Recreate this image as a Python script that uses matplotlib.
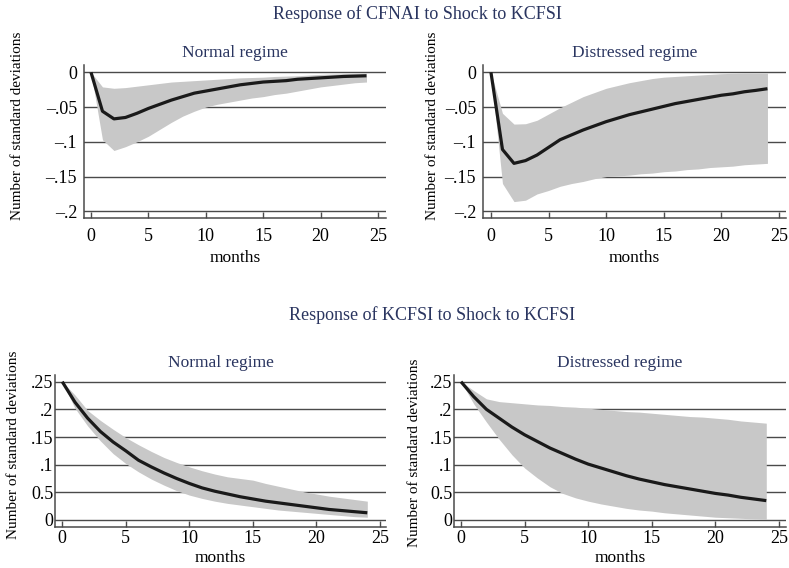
import numpy as np
import matplotlib
matplotlib.use("Agg")
import matplotlib.pyplot as plt

plt.rcParams['font.family'] = ['Liberation Serif', 'DejaVu Serif']

# impulse responses over the 24-month horizon
months = np.arange(25)

# response of CFNAI to a KCFSI shock
cfnai_normal = [0, -0.056, -0.067, -0.065, -0.059, -0.052, -0.046, -0.040, -0.035,
                -0.030, -0.027, -0.024, -0.021, -0.018, -0.016, -0.014, -0.013,
                -0.012, -0.010, -0.009, -0.008, -0.007, -0.006, -0.0055, -0.005]
cfnai_normal_hi = [0, -0.021, -0.023, -0.022, -0.020, -0.018, -0.016, -0.014, -0.013,
                   -0.012, -0.011, -0.010, -0.009, -0.008, -0.0075, -0.007, -0.006,
                   -0.0055, -0.005, -0.004, -0.003, -0.0025, -0.002, -0.0015, -0.001]
cfnai_normal_lo = [0, -0.097, -0.1125, -0.107, -0.100, -0.092, -0.082, -0.072, -0.063,
                   -0.056, -0.050, -0.046, -0.043, -0.040, -0.037, -0.035, -0.032,
                   -0.030, -0.027, -0.024, -0.021, -0.019, -0.017, -0.015, -0.014]

cfnai_distress = [0, -0.111, -0.131, -0.127, -0.119, -0.108, -0.097, -0.090, -0.083,
                  -0.077, -0.071, -0.066, -0.061, -0.057, -0.053, -0.049, -0.045,
                  -0.042, -0.039, -0.036, -0.033, -0.031, -0.028, -0.026, -0.0236]
cfnai_distress_hi = [0, -0.059, -0.0745, -0.074, -0.069, -0.060, -0.051, -0.043, -0.035,
                     -0.029, -0.023, -0.019, -0.015, -0.012, -0.009, -0.007, -0.006,
                     -0.005, -0.004, -0.003, -0.002, -0.0015, -0.001, -0.001, -0.001]
cfnai_distress_lo = [0, -0.160, -0.186, -0.184, -0.175, -0.170, -0.164, -0.160, -0.157,
                     -0.153, -0.150, -0.149, -0.148, -0.146, -0.145, -0.143, -0.142,
                     -0.140, -0.139, -0.137, -0.136, -0.135, -0.133, -0.132, -0.131]

# response of KCFSI to its own shock
kcfsi_normal = [0.25, 0.213, 0.184, 0.160, 0.141, 0.125, 0.108, 0.096, 0.085, 0.075,
                0.066, 0.058, 0.052, 0.047, 0.042, 0.038, 0.034, 0.031, 0.028, 0.025,
                0.022, 0.019, 0.017, 0.015, 0.013]
kcfsi_normal_hi = [0.25, 0.226, 0.198, 0.180, 0.164, 0.149, 0.136, 0.124, 0.113, 0.104,
                   0.096, 0.089, 0.083, 0.078, 0.075, 0.072, 0.066, 0.061, 0.056, 0.051,
                   0.047, 0.043, 0.040, 0.037, 0.034]
kcfsi_normal_lo = [0.25, 0.202, 0.170, 0.143, 0.120, 0.102, 0.087, 0.074, 0.063, 0.053,
                   0.045, 0.039, 0.034, 0.030, 0.027, 0.024, 0.021, 0.018, 0.016, 0.014,
                   0.012, 0.010, 0.008, 0.006, 0.005]

kcfsi_distress = [0.25, 0.223, 0.200, 0.184, 0.168, 0.154, 0.142, 0.130, 0.120, 0.110,
                  0.101, 0.094, 0.087, 0.080, 0.074, 0.069, 0.064, 0.060, 0.056, 0.052,
                  0.048, 0.045, 0.041, 0.038, 0.035]
kcfsi_distress_hi = [0.25, 0.234, 0.219, 0.214, 0.212, 0.210, 0.208, 0.207, 0.205, 0.204,
                     0.202, 0.200, 0.198, 0.196, 0.195, 0.193, 0.191, 0.189, 0.187, 0.186,
                     0.184, 0.182, 0.179, 0.177, 0.175]
kcfsi_distress_lo = [0.25, 0.210, 0.177, 0.146, 0.118, 0.094, 0.076, 0.060, 0.048, 0.040,
                     0.034, 0.029, 0.025, 0.021, 0.018, 0.016, 0.013, 0.011, 0.009, 0.007,
                     0.005, 0.004, 0.003, 0.002, 0.001]

cfnai_ticks = [0, -0.05, -0.1, -0.15, -0.2]
cfnai_ticklabels = ['0', '\u2013.05', '\u2013.1', '\u2013.15', '\u2013.2']
kcfsi_ticks = [0, 0.05, 0.1, 0.15, 0.2, 0.25]
kcfsi_ticklabels = ['0', '0.5', '.1', '.15', '.2', '.25']
month_ticks = [0, 5, 10, 15, 20, 25]

W, H = 789, 568
NAVY = '#2a3560'
BAND = '#c8c8c8'
GRID = '#4a4a4a'

fig = plt.figure(figsize=(W / 100, H / 100), dpi=100)


def add_panel(left, top, right, bottom):
    return fig.add_axes([left / W, 1 - bottom / H, (right - left) / W, (bottom - top) / H])


def draw(ax, mean, lo, hi, ticks, ticklabels, title, xlim, ylim, xpad, ypad, lpad):
    for t in ticks:
        ax.axhline(t, color=GRID, lw=1.0, zorder=1)
    ax.fill_between(months, lo, hi, color=BAND, lw=0, zorder=2)
    ax.plot(months, mean, color='#1a1a1a', lw=2.3, zorder=3, solid_capstyle='butt')
    ax.set_xlim(*xlim)
    ax.set_ylim(*ylim)
    ax.set_xticks(month_ticks)
    ax.set_yticks(ticks)
    ax.set_yticklabels(ticklabels)
    ax.tick_params(axis='x', direction='in', length=4, width=1, color=GRID,
                   labelsize=13, pad=xpad)
    ax.tick_params(axis='y', length=0, labelsize=13, pad=ypad)
    for side in ('top', 'right'):
        ax.spines[side].set_visible(False)
    for side in ('left', 'bottom'):
        ax.spines[side].set_color(GRID)
        ax.spines[side].set_linewidth(1.1)
    ax.set_title(title, color=NAVY, fontsize=12.5, pad=6)
    ax.set_xlabel('months', fontsize=12.5, labelpad=lpad)


ax1 = add_panel(84, 65, 386, 218)
draw(ax1, cfnai_normal, cfnai_normal_lo, cfnai_normal_hi, cfnai_ticks, cfnai_ticklabels,
     'Normal regime', (-0.61, 25.7), (-0.2096, 0.0105), 7, 5, 4)
ax2 = add_panel(483, 65, 786, 218)
draw(ax2, cfnai_distress, cfnai_distress_lo, cfnai_distress_hi, cfnai_ticks, cfnai_ticklabels,
     'Distressed regime', (-0.69, 25.61), (-0.2096, 0.0105), 7, 5, 4)
ax3 = add_panel(55, 375, 386, 527)
draw(ax3, kcfsi_normal, kcfsi_normal_lo, kcfsi_normal_hi, kcfsi_ticks, kcfsi_ticklabels,
     'Normal regime', (-0.57, 25.47), (-0.0127, 0.2621), 2, 1, 2)
ax4 = add_panel(454, 375, 786, 527)
draw(ax4, kcfsi_distress, kcfsi_distress_lo, kcfsi_distress_hi, kcfsi_ticks, kcfsi_ticklabels,
     'Distressed regime', (-0.55, 25.55), (-0.0127, 0.2621), 2, 1, 2)

# y-axis captions sit a little off the axes centre
for x, y in [(18, 126), (432, 126), (14, 445), (415, 453)]:
    fig.text(x / W, 1 - y / H, 'Number of standard deviations', rotation=90,
             ha='center', va='center', fontsize=11)

fig.text(417 / W, 1 - 14 / H, 'Response of CFNAI to Shock to KCFSI', color=NAVY,
         ha='center', va='center', fontsize=13)
fig.text(432 / W, 1 - 315 / H, 'Response of KCFSI to Shock to KCFSI', color=NAVY,
         ha='center', va='center', fontsize=13)

fig.savefig('out.png', dpi=100)
